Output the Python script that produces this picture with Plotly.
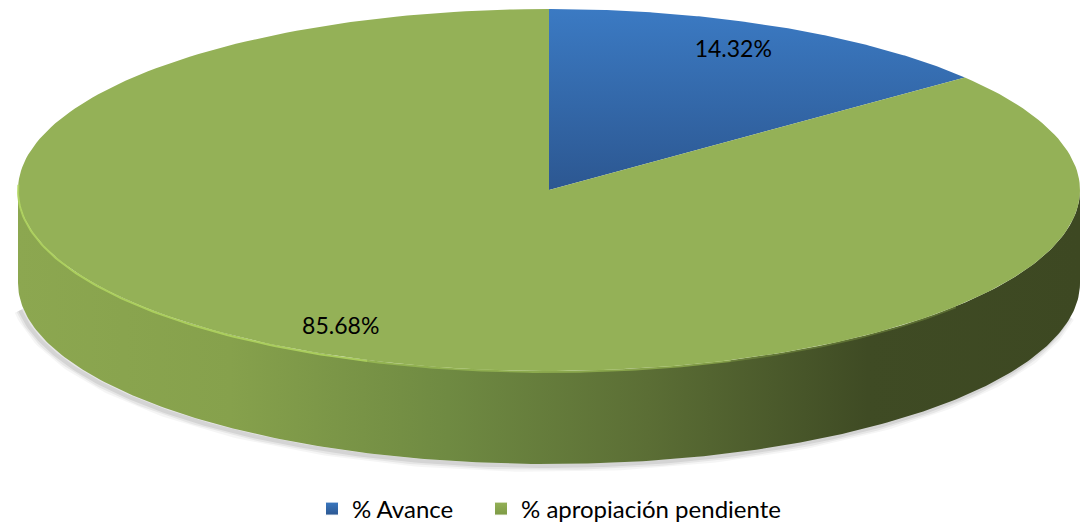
import numpy as np
import plotly.graph_objects as go

# Data
labels = ["% Avance", "% apropiación pendiente"]
values = [14.32, 85.68]
value_text = ["14.32%", "85.68%"]

# Colours (top faces, legend swatches)
top_colors = ['#3a77bf', '#94b157']
swatch_dark = ['#2c5791', '#7d9a45']
blue_grad = [[0, '#3b7ac3'], [1, '#2c5791']]
side_grad = [[0, '#8ca750'], [0.2, '#86a14c'], [0.405, '#6f8a42'],
             [0.593, '#5b6e35'], [0.8, '#3f4b24'], [1, '#3d4822']]

# Pie geometry in pixel units (tilted disc)
CX, CY, RX, RY, DEPTH = 549, 190, 531, 181, 93
W, H = 1083, 525


def arc(t0, t1, dy=0, n=240):
    # angles in degrees, clockwise from 12 o'clock
    t = np.radians(np.linspace(t0, t1, n))
    return CX + RX * np.sin(t), CY - RY * np.cos(t) + dy


fig = go.Figure()

# soft shadow under the side
for w, a in [(12, 0.04), (8, 0.06), (4, 0.08)]:
    sx, sy = arc(100, 262, dy=DEPTH + 2)
    fig.add_trace(go.Scatter(x=sx - 3, y=sy, mode='lines', line=dict(color=f'rgba(0,0,0,{a})', width=w),
                             hoverinfo='skip', showlegend=False))

# side band of the disc (front half)
tx, ty = arc(90, 270)
bx, by = arc(270, 90, dy=DEPTH)
fig.add_trace(go.Scatter(x=np.concatenate([tx, bx]), y=np.concatenate([ty, by]),
                         mode='lines', fill='toself', line=dict(width=0),
                         fillgradient=dict(type='horizontal', colorscale=side_grad, start=CX - RX, stop=CX + RX),
                         hoverinfo='skip', showlegend=False))

# top faces of the slices
fracs = np.array(values) / sum(values)
edges = np.concatenate([[0], np.cumsum(fracs)]) * 360
for i, lab in enumerate(labels):
    ax, ay = arc(edges[i], edges[i + 1])
    kw = dict(fillcolor=top_colors[i])
    if i == 0:
        kw = dict(fillgradient=dict(type='vertical', colorscale=blue_grad, start=CY - RY, stop=CY))
    fig.add_trace(go.Scatter(x=np.concatenate([[CX], ax, [CX]]), y=np.concatenate([[CY], ay, [CY]]),
                             mode='lines', fill='toself', line=dict(width=0), name=lab,
                             hoverinfo='name', showlegend=False, **kw))

# light rim along the front-left edge of the top, fading towards the right
for t0, t1, a in [(130, 160, 0.25), (160, 200, 0.5), (200, 272, 0.85)]:
    rx_, ry_ = arc(t0, t1, n=80)
    fig.add_trace(go.Scatter(x=rx_, y=ry_ + 1, mode='lines', line=dict(color=f'rgba(178,214,96,{a})', width=2),
                             hoverinfo='skip', showlegend=False))

# value labels
mids = np.radians((edges[:-1] + edges[1:]) / 2)
r_lab, x_shift = 0.85, -12
fig.add_trace(go.Scatter(x=CX + x_shift + RX * r_lab * np.sin(mids), y=CY - RY * r_lab * np.cos(mids),
                         mode='text', text=value_text,
                         textfont=dict(family='Lato', size=23, color='black'),
                         hoverinfo='skip', showlegend=False))

# legend entries, one legend box each so they sit like the original
legend_x = [312, 481]
for i, lab in enumerate(labels):
    fig.add_trace(go.Scatter(x=[None], y=[None], mode='markers', name=lab,
                             legend='legend' if i == 0 else 'legend2',
                             marker=dict(symbol='square', size=13, color=top_colors[i],
                                         gradient=dict(type='vertical', color=swatch_dark[i]),
                                         line=dict(color='white', width=1))))

leg = dict(yref='container', xref='container', y=(H - 509) / H, yanchor='middle', xanchor='left',
           font=dict(size=24), bgcolor='rgba(0,0,0,0)', itemwidth=30)
fig.update_layout(
    width=W, height=H,
    margin=dict(l=0, r=0, t=0, b=0, autoexpand=False),
    plot_bgcolor='white', paper_bgcolor='white',
    xaxis=dict(range=[0, W], visible=False, fixedrange=True),
    yaxis=dict(range=[H, 0], visible=False, fixedrange=True),
    font=dict(family='Lato', color='black'),
    legend=dict(x=legend_x[0] / W, **leg),
    legend2=dict(x=legend_x[1] / W, **leg),
)

page_fix = ("document.body.style.margin='0';"
            "document.documentElement.style.overflow='hidden';"
            "document.body.style.overflow='hidden';")
fig.write_html("out.html", config={'displayModeBar': False}, post_script=page_fix)
